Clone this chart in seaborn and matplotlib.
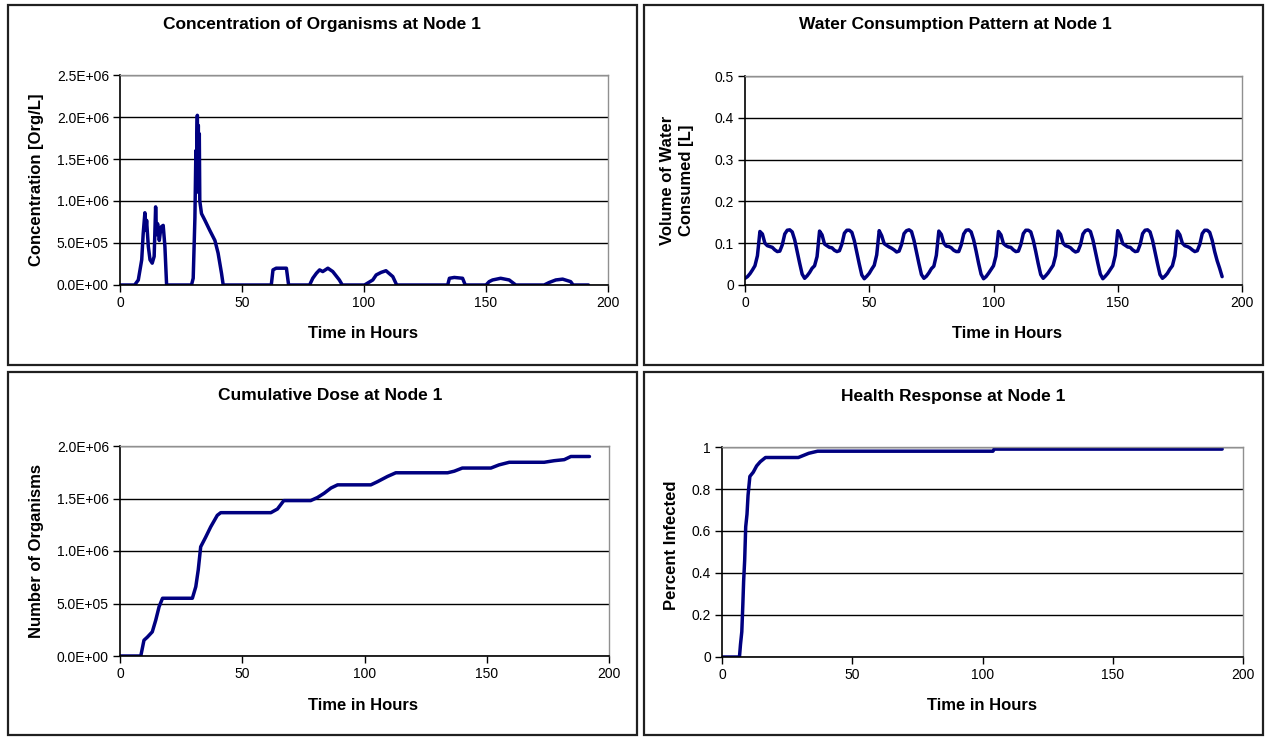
import pandas as pd
import seaborn as sns
import matplotlib.pyplot as plt
import numpy as np
from matplotlib.patches import Rectangle
from matplotlib.ticker import FuncFormatter


# Concentration of organisms at node 1 [Org/L]
conc_hours = [0, 6, 7.5, 8.9, 9.5, 10.2, 10.6, 10.9, 11.6, 12.3, 13.2, 14, 14.6, 15.0, 15.4, 16.1,
              16.8, 17.7, 18.4, 19.1, 29.3, 30, 30.7, 31.1, 31.3, 31.5, 31.7, 31.9, 32.1, 32.3,
              32.5, 32.7, 33.4, 34.8, 36.8, 38.9, 40.2, 41.6, 42.3, 62, 62.7, 64, 68.2, 69.1,
              77.7, 79, 80.5, 81.8, 83.1, 85.2, 87.2, 89.9, 91.1, 100.2, 103.6, 105, 107, 109,
              111.8, 113.4, 134.3, 135, 137, 140.4, 141.5, 150, 151.3, 152.7, 156, 159.5, 162.2,
              173.8, 175.9, 178.6, 181.4, 184.7, 185.7, 192]
conc_values = [0, 0, 6.0e4, 3.0e5, 6.1e5, 8.6e5, 6.5e5, 7.7e5, 4.6e5, 3.0e5, 2.6e5, 3.4e5, 9.3e5,
               6.0e5, 7.3e5, 5.3e5, 6.9e5, 7.1e5, 4.6e5, 0, 0, 8.0e4, 8.0e5, 1.6e6, 1.1e6, 1.75e6,
               2.02e6, 1.4e6, 1.9e6, 1.2e6, 1.8e6, 1.0e6, 8.5e5, 7.7e5, 6.5e5, 5.3e5, 3.8e5,
               1.4e5, 0, 0, 1.8e5, 2.0e5, 2.0e5, 0, 0, 8.0e4, 1.4e5, 1.8e5, 1.6e5, 2.0e5, 1.6e5,
               6.0e4, 0, 0, 6.0e4, 1.2e5, 1.5e5, 1.7e5, 1.0e5, 0, 0, 8.0e4, 9.0e4, 8.0e4, 0, 0,
               4.0e4, 6.0e4, 8.0e4, 6.0e4, 0, 0, 3.0e4, 6.0e4, 7.0e4, 4.0e4, 0, 0]

# Water consumption pattern at node 1 [L], hourly readings
water_hours = np.arange(0, 193)
water_values = [
    0.016, 0.020, 0.027, 0.036, 0.046, 0.070, 0.128, 0.122, 0.100, 0.094, 0.092, 0.090,
    0.084, 0.080, 0.081, 0.096, 0.122, 0.131, 0.132, 0.127, 0.108, 0.080, 0.052, 0.026,
    0.016, 0.022, 0.030, 0.040, 0.046, 0.068, 0.129, 0.120, 0.098, 0.094, 0.090, 0.089,
    0.083, 0.080, 0.082, 0.098, 0.124, 0.131, 0.131, 0.126, 0.106, 0.078, 0.050, 0.024,
    0.015, 0.021, 0.028, 0.038, 0.047, 0.072, 0.130, 0.118, 0.099, 0.095, 0.091, 0.088,
    0.084, 0.079, 0.081, 0.097, 0.123, 0.130, 0.132, 0.128, 0.107, 0.079, 0.051, 0.025,
    0.016, 0.021, 0.029, 0.039, 0.045, 0.071, 0.129, 0.121, 0.100, 0.093, 0.092, 0.089,
    0.083, 0.080, 0.080, 0.096, 0.122, 0.131, 0.132, 0.127, 0.108, 0.081, 0.052, 0.026,
    0.015, 0.020, 0.028, 0.037, 0.046, 0.069, 0.128, 0.120, 0.099, 0.094, 0.091, 0.090,
    0.084, 0.080, 0.081, 0.097, 0.123, 0.131, 0.131, 0.127, 0.107, 0.080, 0.051, 0.025,
    0.016, 0.022, 0.029, 0.038, 0.047, 0.070, 0.129, 0.121, 0.100, 0.094, 0.092, 0.089,
    0.083, 0.079, 0.081, 0.096, 0.122, 0.130, 0.132, 0.128, 0.108, 0.080, 0.052, 0.026,
    0.015, 0.021, 0.028, 0.037, 0.046, 0.071, 0.130, 0.119, 0.099, 0.095, 0.091, 0.090,
    0.084, 0.080, 0.081, 0.097, 0.123, 0.131, 0.132, 0.127, 0.107, 0.079, 0.051, 0.025,
    0.016, 0.021, 0.028, 0.038, 0.046, 0.070, 0.129, 0.120, 0.100, 0.094, 0.092, 0.089,
    0.084, 0.080, 0.082, 0.097, 0.123, 0.131, 0.131, 0.126, 0.107, 0.080, 0.058, 0.040,
    0.020,
]

# Cumulative dose at node 1 [organisms]
dose_hours = [0, 8.5, 9.8, 11.2, 13.2, 14.6, 16, 17.4, 29.6, 31, 32, 33, 35, 37.1, 39.8, 41.2,
              61.7, 64.4, 67, 78, 80.8, 83.5, 86.3, 89, 102.6, 105.3, 109.4, 112.8, 134, 136.7,
              140, 151.7, 155, 159.2, 173.5, 177.6, 181.7, 184.4, 192]
dose_values = [0, 0, 1.5e5, 1.8e5, 2.3e5, 3.4e5, 4.7e5, 5.5e5, 5.5e5, 6.6e5, 8.2e5, 1.04e6,
               1.13e6, 1.23e6, 1.34e6, 1.365e6, 1.365e6, 1.40e6, 1.48e6, 1.48e6, 1.51e6, 1.55e6,
               1.60e6, 1.63e6, 1.63e6, 1.66e6, 1.71e6, 1.745e6, 1.745e6, 1.76e6, 1.79e6,
               1.79e6, 1.82e6, 1.845e6, 1.845e6, 1.86e6, 1.87e6, 1.90e6, 1.90e6]

# Health response at node 1 [fraction infected]
health_hours = [0, 6.7, 7.1, 7.6, 8, 8.3, 8.7, 9.1, 9.6, 10, 10.7, 12, 13.3, 14.7, 16.7, 29.3,
                31.3, 33.3, 36.7, 104, 104.5, 192]
health_values = [0, 0, 0.06, 0.12, 0.25, 0.36, 0.46, 0.62, 0.68, 0.77, 0.86, 0.88, 0.91, 0.93,
                 0.95, 0.95, 0.96, 0.97, 0.98, 0.98, 0.99, 0.99]

W, H = 1268, 737
LINE = '#000080'

sns.set_style('white')
plt.rcParams['font.family'] = ['Liberation Sans', 'DejaVu Sans']
plt.rcParams['text.color'] = 'black'
plt.rcParams['xtick.color'] = 'black'
plt.rcParams['ytick.color'] = 'black'

fig = plt.figure(figsize=(W / 100, H / 100), dpi=100)


def px_axes(x0, y0, x1, y1):
    # axes from pixel box (top-left origin)
    return fig.add_axes([x0 / W, 1 - y1 / H, (x1 - x0) / W, (y1 - y0) / H])


def px_box(x0, y0, x1, y1):
    fig.patches.append(Rectangle((x0 / W, 1 - y1 / H), (x1 - x0) / W, (y1 - y0) / H,
                                 transform=fig.transFigure, fill=False,
                                 edgecolor='#202020', linewidth=1.6))


def px_text(x, y, s, size, rotation=0):
    fig.text(x / W, 1 - y / H, s, ha='center', va='center', fontsize=size,
             fontweight='bold', rotation=rotation, linespacing=1.35, color='black')


def style_axes(ax, ymax, ystep, fmt):
    ax.set_xlim(0, 200)
    ax.set_ylim(0, ymax)
    ax.set_xticks(np.arange(0, 201, 50))
    ax.set_yticks(np.arange(0, ymax + ystep / 2, ystep))
    ax.yaxis.set_major_formatter(FuncFormatter(fmt))
    ax.grid(axis='y', color='black', linewidth=1.0)
    ax.set_axisbelow(True)
    for side in ['left', 'bottom']:
        ax.spines[side].set_color('black')
        ax.spines[side].set_linewidth(1.2)
    for side in ['top', 'right']:
        ax.spines[side].set_color('#909090')
        ax.spines[side].set_linewidth(1.0)
    ax.tick_params(axis='both', direction='out', length=5, width=1, color='black',
                   labelcolor='black', labelsize=10, pad=3, left=True, bottom=True)
    ax.set_xlabel('')
    ax.set_ylabel('')


sci = lambda v, p: f'{v:.1E}'
plain = lambda v, p: f'{v:g}'

# panel boxes
px_box(8, 5, 637, 365)
px_box(644, 5, 1263, 365)
px_box(8, 372, 637, 735)
px_box(644, 372, 1263, 735)

# Concentration
ax1 = px_axes(120, 75, 608, 285)
sns.lineplot(x=conc_hours, y=conc_values, ax=ax1, color=LINE, linewidth=2.5)
style_axes(ax1, 2.5e6, 0.5e6, sci)
px_text(322, 25, 'Concentration of Organisms at Node 1', 12.5)
px_text(363, 334, 'Time in Hours', 12)
px_text(37, 180, 'Concentration [Org/L]', 12, rotation=90)

# Water consumption
ax2 = px_axes(745, 76, 1242, 285)
sns.lineplot(x=water_hours, y=water_values, ax=ax2, color=LINE, linewidth=2.5)
style_axes(ax2, 0.5, 0.1, plain)
px_text(955, 25, 'Water Consumption Pattern at Node 1', 12.5)
px_text(1007, 334, 'Time in Hours', 12)
px_text(677, 180, 'Volume of Water\nConsumed [L]', 12, rotation=90)

# Cumulative dose
ax3 = px_axes(120, 446, 609, 656)
sns.lineplot(x=dose_hours, y=dose_values, ax=ax3, color=LINE, linewidth=2.5)
style_axes(ax3, 2.0e6, 0.5e6, sci)
px_text(330, 395, 'Cumulative Dose at Node 1', 12.5)
px_text(363, 706, 'Time in Hours', 12)
px_text(37, 551, 'Number of Organisms', 12, rotation=90)

# Health response
ax4 = px_axes(722, 447, 1243, 657)
sns.lineplot(x=health_hours, y=health_values, ax=ax4, color=LINE, linewidth=2.5)
style_axes(ax4, 1.0, 0.2, plain)
px_text(953, 397, 'Health Response at Node 1', 12.5)
px_text(982, 706, 'Time in Hours', 12)
px_text(672, 545, 'Percent Infected', 12, rotation=90)

fig.savefig('out.png', dpi=100)
